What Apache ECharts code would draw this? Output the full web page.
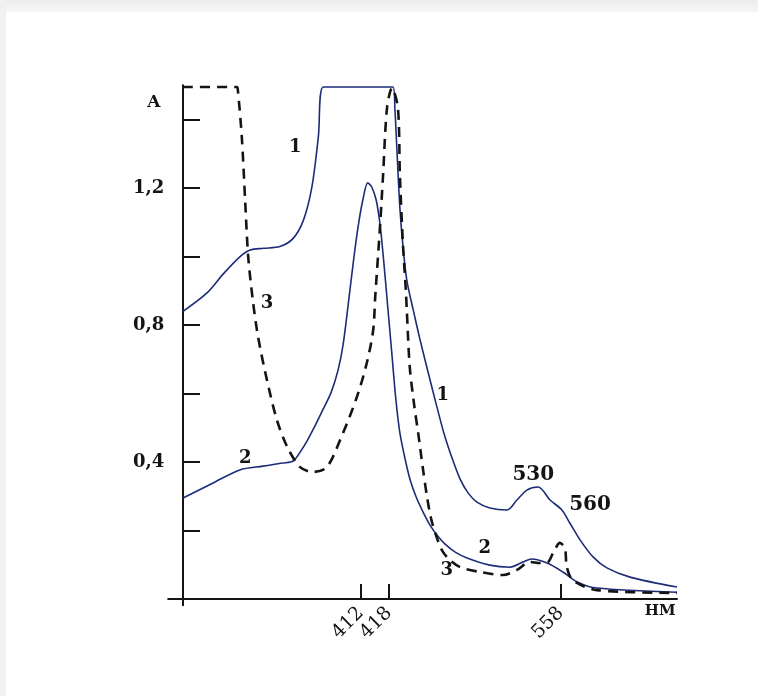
<!DOCTYPE html>
<html>
<head>
<meta charset="utf-8">
<script src="https://cdn.jsdelivr.net/npm/echarts@6/dist/echarts.min.js"></script>
<style>
html,body{margin:0;padding:0;background:#fff;}
#chart{width:758px;height:696px;}
</style>
</head>
<body>
<div id="chart"></div>
<script>
// x: relative scan position (0..100 along the wavelength axis), y: absorbance A
const curve1 = [
  [0,0.84],[4.8,0.893],[8.2,0.95],[11.5,0.999],[13.6,1.019],[16.3,1.024],[19.6,1.029],
  [22.3,1.053],[24.4,1.107],[26.1,1.204],[27.4,1.35],[28.4,1.495],[42.5,1.495],
  [42.9,1.428],[43.3,1.311],[43.9,1.142],[44.5,1.034],[45.3,0.931],[46.6,0.844],
  [48.0,0.756],[49.6,0.663],[51.2,0.572],[52.8,0.485],[54.5,0.41],[56.1,0.35],
  [57.7,0.31],[59.5,0.283],[62.1,0.266],[65.6,0.26],
  [67.6,0.289],[69.6,0.318],[71.9,0.327],[74.3,0.289],[76.7,0.26],[78.3,0.222],
  [80.4,0.172],[83.0,0.123],[85.8,0.091],[90.5,0.064],[100,0.035]
];
const curve2 = [
  [0,0.295],[6.1,0.339],[11.5,0.377],[16.2,0.388],[20.2,0.397],[22.3,0.403],
  [23.7,0.429],[25.1,0.461],[26.7,0.505],[28.3,0.552],[30.0,0.604],[31.4,0.669],
  [32.4,0.742],[33.4,0.855],[34.4,0.975],[35.4,1.083],[36.4,1.165],[37.4,1.215],
  [38.2,1.203],[39.1,1.165],[39.9,1.092],[40.7,0.975],[41.5,0.844],[42.3,0.712],
  [43.1,0.581],[43.9,0.485],[45.0,0.406],[46.0,0.347],[47.2,0.298],[48.6,0.254],
  [50.0,0.216],[51.4,0.187],[53.0,0.161],[55.1,0.137],[57.5,0.12],[62.1,0.099],
  [66.2,0.093],[68.8,0.108],[70.6,0.117],[73.7,0.105],[76.9,0.079],[79.8,0.05],
  [83.8,0.032],[100,0.02]
];
const curve3 = [
  [0,1.495],[10.9,1.495],[11.1,1.486],[11.9,1.349],[12.6,1.156],[13.2,0.999],
  [14.2,0.864],[15.2,0.765],[17.0,0.639],[19.0,0.523],[21.1,0.444],[23.7,0.385],
  [26.3,0.371],[29.1,0.385],[31.8,0.464],[35.2,0.59],[37.2,0.689],[38.5,0.785],
  [38.9,0.88],[39.9,1.092],[40.5,1.238],[41.3,1.434],[42.3,1.492],[43.5,1.434],
  [43.9,1.238],[44.5,1.042],[45.1,0.902],[45.3,0.844],[45.9,0.677],[46.8,0.566],
  [47.6,0.485],[48.6,0.377],[49.4,0.298],[50.2,0.236],[51.2,0.187],[52.4,0.143],
  [54.0,0.114],[56.1,0.093],[60.1,0.079],
  [64.8,0.07],[67.6,0.085],[70.2,0.108],[72.3,0.105],[73.9,0.108],[74.9,0.134],
  [76.3,0.164],[77.3,0.149],[77.7,0.093],[78.9,0.055],[83.8,0.026],[100,0.018]
];
// x-axis tick positions and their wavelength labels (nm)
const xTickPos = [36.0, 41.7, 76.5];
const xTickLabels = ['412', '418', '558'];
// y-axis ticks and labelled values
const yTicks = [0.2, 0.4, 0.6, 0.8, 1.0, 1.2, 1.4];
const yLabels = [0.4, 0.8, 1.2];
// curve number labels
const curveLabelText = ['1', '1', '2', '2', '3', '3'];
const curveLabelX = [22.7, 52.6, 12.6, 61.1, 17.0, 53.4];
const curveLabelY = [1.32, 0.596, 0.412, 0.149, 0.864, 0.085];
// band labels
const bandLabelText = ['530', '560'];
const bandLabelX = [70.9, 82.4];
const bandLabelY = [0.362, 0.274];
// axis names
const yNameText = ['A'];
const yNameX = [-5.9];
const yNameY = [1.448];
const xNameText = ['НМ'];
const xNameX = [96.6];
const xNameY = [-0.036];

const SERIF = '"DejaVu Serif", "Liberation Serif", serif';
const NAVY = '#1d2c78';
const INK = '#141414';

function pts(xs, ys, names) {
  return xs.map((x, i) => ({ value: [x, ys[i]], name: names[i] }));
}
function textSeries(name, data, size, weight) {
  return {
    name: name, type: 'scatter', data: data, symbolSize: 1, clip: false,
    itemStyle: { color: 'rgba(0,0,0,0)', opacity: 1 }, z: 5, silent: true,
    label: {
      show: true, position: 'inside', formatter: p => p.name,
      fontFamily: SERIF, fontWeight: weight, fontSize: size, color: INK, opacity: 1
    }
  };
}

const chart = echarts.init(document.getElementById('chart'), null, { renderer: 'canvas' });
chart.setOption({
  backgroundColor: '#ffffff',
  animation: false,
  graphic: [
    { type: 'rect', shape: { x: 0, y: 0, width: 758, height: 12 }, z: -10,
      style: { fill: new echarts.graphic.LinearGradient(0, 0, 0, 1, [
        { offset: 0, color: '#ececec' }, { offset: 1, color: '#f6f6f6' }]) } },
    { type: 'rect', shape: { x: 0, y: 0, width: 6, height: 696 }, z: -10,
      style: { fill: '#f1f1f1' } }
  ],
  grid: { left: 168.2, right: 81, top: 85.25, bottom: 90.8 },
  xAxis: {
    type: 'value', min: -3, max: 100,
    axisLine: { onZero: true, lineStyle: { color: INK, width: 2 } },
    splitLine: { show: false },
    axisTick: { show: true, inside: true, length: 15, customValues: xTickPos,
      lineStyle: { color: INK, width: 2 } },
    axisLabel: {
      show: true, customValues: xTickPos, rotate: 45, margin: 5,
      fontFamily: SERIF, fontSize: 19, color: INK,
      formatter: v => {
        let best = 0;
        xTickPos.forEach((p, i) => { if (Math.abs(p - v) < Math.abs(xTickPos[best] - v)) best = i; });
        return xTickLabels[best];
      }
    }
  },
  yAxis: {
    type: 'value', min: -0.018, max: 1.5,
    axisLine: { show: true, onZero: true, lineStyle: { color: INK, width: 2 } },
    splitLine: { show: false },
    axisTick: { show: true, inside: true, length: 17, customValues: yTicks,
      lineStyle: { color: INK, width: 2 } },
    axisLabel: {
      show: true, customValues: yLabels, margin: 4,
      fontFamily: SERIF, fontWeight: 'bold', fontSize: 18, color: INK,
      formatter: v => v.toFixed(1).replace('.', ',')
    }
  },
  series: [
    { name: '1', type: 'line', data: curve1, showSymbol: false, smooth: 0.3,
      lineStyle: { color: NAVY, width: 1.6 }, z: 3 },
    { name: '2', type: 'line', data: curve2, showSymbol: false, smooth: 0.3,
      lineStyle: { color: NAVY, width: 1.6 }, z: 3 },
    { name: '3', type: 'line', data: curve3, showSymbol: false, smooth: 0.3,
      lineStyle: { color: INK, width: 2.6, type: [10, 7] }, z: 4 },
    textSeries('curveLabels', pts(curveLabelX, curveLabelY, curveLabelText), 18, 'bold'),
    textSeries('bandLabels', pts(bandLabelX, bandLabelY, bandLabelText), 20, 'bold'),
    textSeries('yName', pts(yNameX, yNameY, yNameText), 17, 'bold'),
    textSeries('xName', pts(xNameX, xNameY, xNameText), 15, 'bold')
  ]
});
</script>
</body>
</html>
